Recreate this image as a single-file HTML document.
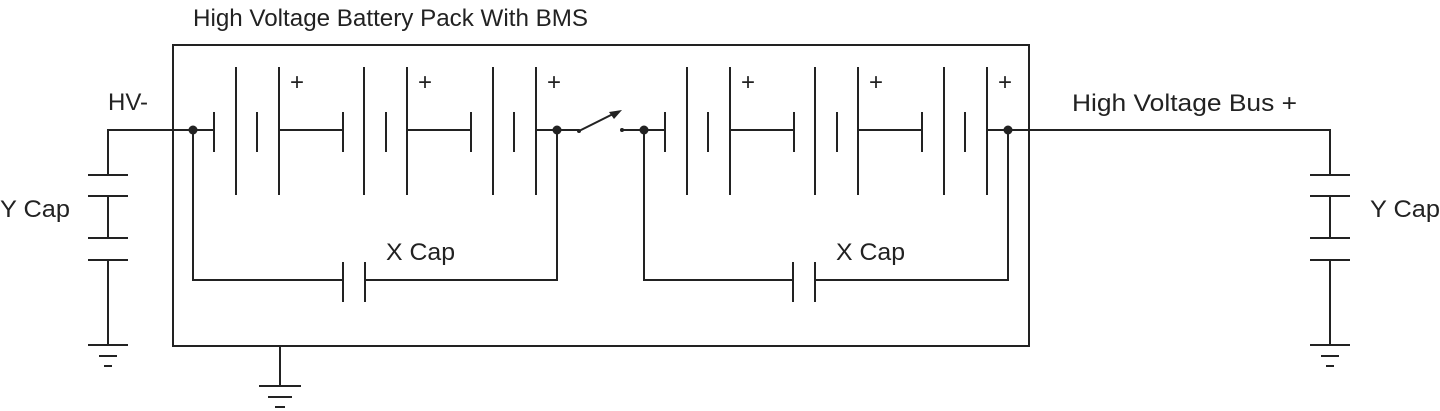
<!DOCTYPE html>
<html><head><style>
html,body{margin:0;padding:0;background:#fff;}
svg{display:block;}
text{font-family:"Liberation Sans",sans-serif;fill:#222;}
</style></head><body>
<svg width="1440" height="411" viewBox="0 0 1440 411" xmlns="http://www.w3.org/2000/svg">
<g stroke="#222" stroke-width="2" fill="none">
<rect x="173" y="45" width="856" height="301"/>
<polyline points="108,175 108,130 193,130 214,130"/>
<line x1="88" y1="175" x2="128" y2="175"/>
<line x1="88" y1="196" x2="128" y2="196"/>
<line x1="108" y1="196" x2="108" y2="238"/>
<line x1="88" y1="238" x2="128" y2="238"/>
<line x1="88" y1="260" x2="128" y2="260"/>
<line x1="108" y1="260" x2="108" y2="345"/>
<line x1="88" y1="345" x2="128" y2="345"/>
<line x1="99" y1="356" x2="117" y2="356"/>
<line x1="104" y1="366" x2="112" y2="366"/>
<g>
<line x1="214" y1="112" x2="214" y2="152"/>
<line x1="236" y1="67" x2="236" y2="195"/>
<line x1="257" y1="112" x2="257" y2="152"/>
<line x1="279" y1="67" x2="279" y2="195"/>
<line x1="279" y1="130" x2="343" y2="130"/>
<line x1="343" y1="112" x2="343" y2="152"/>
<line x1="364" y1="67" x2="364" y2="195"/>
<line x1="386" y1="112" x2="386" y2="152"/>
<line x1="407" y1="67" x2="407" y2="195"/>
<line x1="407" y1="130" x2="471" y2="130"/>
<line x1="471" y1="112" x2="471" y2="152"/>
<line x1="493" y1="67" x2="493" y2="195"/>
<line x1="514" y1="112" x2="514" y2="152"/>
<line x1="536" y1="67" x2="536" y2="195"/>
<line x1="536" y1="130" x2="579" y2="130"/>
</g>
<polyline points="193,130 193,280 343,280"/>
<line x1="343" y1="262" x2="343" y2="302"/>
<line x1="365" y1="262" x2="365" y2="302"/>
<polyline points="365,280 557,280 557,130"/>
<line x1="579" y1="131" x2="617" y2="112"/>
<line x1="622" y1="130" x2="665" y2="130"/>
<g transform="translate(451,0)">
<line x1="214" y1="112" x2="214" y2="152"/>
<line x1="236" y1="67" x2="236" y2="195"/>
<line x1="257" y1="112" x2="257" y2="152"/>
<line x1="279" y1="67" x2="279" y2="195"/>
<line x1="279" y1="130" x2="343" y2="130"/>
<line x1="343" y1="112" x2="343" y2="152"/>
<line x1="364" y1="67" x2="364" y2="195"/>
<line x1="386" y1="112" x2="386" y2="152"/>
<line x1="407" y1="67" x2="407" y2="195"/>
<line x1="407" y1="130" x2="471" y2="130"/>
<line x1="471" y1="112" x2="471" y2="152"/>
<line x1="493" y1="67" x2="493" y2="195"/>
<line x1="514" y1="112" x2="514" y2="152"/>
<line x1="536" y1="67" x2="536" y2="195"/>
</g>
<polyline points="987,130 1330,130 1330,175"/>
<polyline points="644,130 644,280 793,280"/>
<line x1="793" y1="262" x2="793" y2="302"/>
<line x1="815" y1="262" x2="815" y2="302"/>
<polyline points="815,280 1008,280 1008,130"/>
<line x1="1310" y1="175" x2="1350" y2="175"/>
<line x1="1310" y1="196" x2="1350" y2="196"/>
<line x1="1330" y1="196" x2="1330" y2="238"/>
<line x1="1310" y1="238" x2="1350" y2="238"/>
<line x1="1310" y1="260" x2="1350" y2="260"/>
<line x1="1330" y1="260" x2="1330" y2="345"/>
<line x1="1310" y1="345" x2="1350" y2="345"/>
<line x1="1321" y1="356" x2="1339" y2="356"/>
<line x1="1326" y1="366" x2="1334" y2="366"/>
<line x1="280" y1="346" x2="280" y2="386"/>
<line x1="259" y1="386" x2="301" y2="386"/>
<line x1="268" y1="397" x2="292" y2="397"/>
<line x1="275" y1="407" x2="285" y2="407"/>
</g>
<g fill="#222">
<circle cx="193" cy="130" r="4.5"/>
<circle cx="557" cy="130" r="4.5"/>
<circle cx="644" cy="130" r="4.5"/>
<circle cx="1008" cy="130" r="4.5"/>
<circle cx="579" cy="131" r="2"/>
<circle cx="622" cy="130" r="2"/>
<polygon points="622,110 609,112 614,119"/>
</g>
<g font-size="24">
<text x="193" y="26" textLength="395" lengthAdjust="spacingAndGlyphs">High Voltage Battery Pack With BMS</text>
<text x="108" y="110" textLength="40" lengthAdjust="spacingAndGlyphs">HV-</text>
<text x="1072" y="111" textLength="225" lengthAdjust="spacingAndGlyphs">High Voltage Bus +</text>
<text x="0" y="217" textLength="70" lengthAdjust="spacingAndGlyphs">Y Cap</text>
<text x="1370" y="217" textLength="70" lengthAdjust="spacingAndGlyphs">Y Cap</text>
<text x="386" y="260" textLength="69" lengthAdjust="spacingAndGlyphs">X Cap</text>
<text x="836" y="260" textLength="69" lengthAdjust="spacingAndGlyphs">X Cap</text>
</g>
<g font-size="24">
<text x="290" y="90">+</text><text x="418" y="90">+</text><text x="547" y="90">+</text>
<text x="741" y="90">+</text><text x="869" y="90">+</text><text x="998" y="90">+</text>
</g>
</svg>
</body></html>
